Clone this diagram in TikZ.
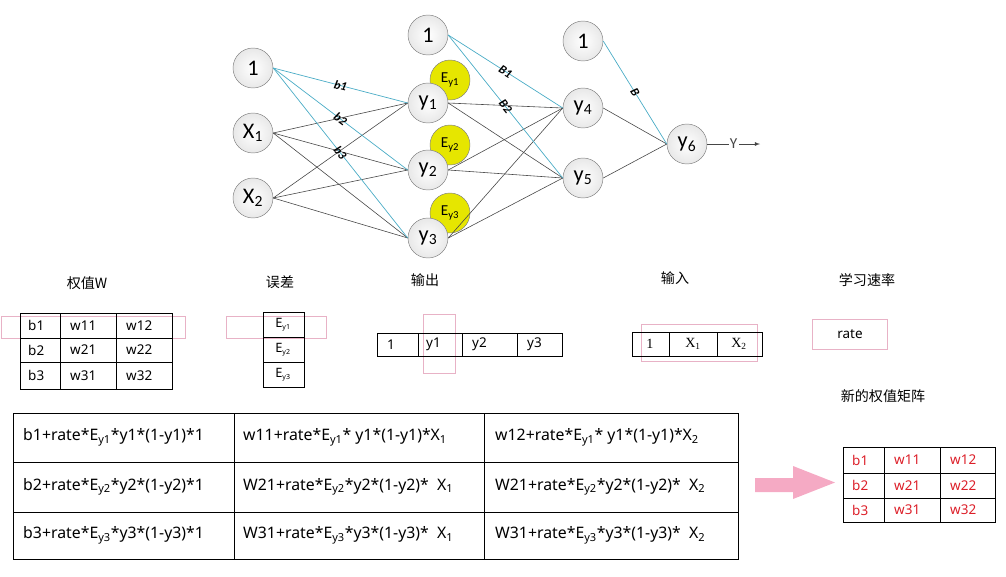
\documentclass[tikz,border=0pt]{standalone}
\usepackage{fontspec}
\setmainfont{Carlito}
\newfontfamily\cjk{Noto Sans CJK SC}
\newfontfamily\tabfont{Noto Sans}
\newfontfamily\tnrfont{Liberation Serif}
\definecolor{linkblue}{RGB}{75,172,198}
\definecolor{edgegray}{RGB}{70,70,70}
\definecolor{pinkline}{RGB}{232,178,198}
\definecolor{pinkarrow}{RGB}{245,170,196}
\definecolor{yellowball}{RGB}{230,230,0}
\definecolor{newred}{RGB}{220,30,40}
\tikzset{
  neuron/.style={circle, draw=gray, inner color=white, outer color=gray!18, minimum size=1.2cm, inner sep=0pt, font=\fontsize{19}{20}\selectfont},
  errball/.style={circle, draw=gray, fill=yellowball, minimum size=1.2cm, inner sep=0pt, font=\fontsize{13}{14}\selectfont},
  wire/.style={edgegray, line width=0.5pt},
  bias/.style={linkblue, line width=0.6pt},
  wlabel/.style={sloped, text=black, font=\fontsize{10.5}{11}\selectfont\bfseries\itshape, inner sep=0.5pt},
  headtext/.style={font=\cjk\fontsize{12}{14}\selectfont},
  cell/.style={anchor=west, inner sep=0pt, font=\tabfont\fontsize{11.5}{13}\selectfont},
  bigcell/.style={anchor=west, inner sep=0pt, font=\tabfont\fontsize{13.5}{15}\selectfont},
  pinkbox/.style={draw=pinkline, line width=0.6pt},
}
\begin{document}
\begin{tikzpicture}[x=0.03cm, y=-0.03cm, >=latex]
\useasboundingbox (0,0) rectangle (1006,576);

% error balls behind the hidden neurons
\node[errball] (e1) at (450,80) {E\textsubscript{y1}};
\node[errball] (e2) at (450,145) {E\textsubscript{y2}};
\node[errball] (e3) at (450,213) {E\textsubscript{y3}};

% network
\node[neuron] (one) at (253,68) {1};
\node[neuron] (x1) at (253,133) {X\textsubscript{1}};
\node[neuron] (x2) at (253,198) {X\textsubscript{2}};
\node[neuron] (hone) at (428,35) {1};
\node[neuron] (y1) at (428,103) {y\textsubscript{1}};
\node[neuron] (y2) at (428,170) {y\textsubscript{2}};
\node[neuron] (y3) at (428,238) {y\textsubscript{3}};
\node[neuron] (oone) at (583,41) {1};
\node[neuron] (y4) at (583,108) {y\textsubscript{4}};
\node[neuron] (y5) at (583,178) {y\textsubscript{5}};
\node[neuron] (y6) at (687,144) {y\textsubscript{6}};
\coordinate (yend) at (760,144);

\foreach \a in {x1,x2}
  \foreach \b in {y1,y2,y3}
    \draw[wire] (\a.east) -- (\b.west);
\foreach \a in {y1,y2,y3}
  \foreach \b in {y4,y5}
    \draw[wire] (\a.east) -- (\b.west);
\draw[wire] (y4.east) -- (y6.west);
\draw[wire] (y5.east) -- (y6.west);

\draw[bias] (one.east) -- node[wlabel]{b1} (y1.west);
\draw[bias] (one.east) -- node[wlabel]{b2} (y2.west);
\draw[bias] (one.east) -- node[wlabel]{b3} (y3.west);
\draw[bias] (hone.east) -- node[wlabel]{B1} (y4.west);
\draw[bias] (hone.east) -- node[wlabel]{B2} (y5.west);
\draw[bias] (oone.east) -- node[wlabel]{B} (y6.west);

\draw[wire, ->] (y6.east) -- node[fill=white, inner sep=1pt, font=\fontsize{13}{14}\selectfont]{Y} (yend);

% headings
\node[headtext] (hw) at (87,283) {权值W};
\node[headtext] (he) at (280,282) {误差};
\node[headtext] (ho) at (425,280) {输出};
\node[headtext] (hi) at (675,278) {输入};
\node[headtext] (hr) at (867,280) {学习速率};
\node[headtext] (hn) at (883,396) {新的权值矩阵};

% weight table
\draw[pinkbox] (1,316) rectangle (185,338);
\draw (20,313) rectangle (172,389);
\draw[thick] (20,338) -- (172,338);
\draw (20,362) -- (172,362);
\draw (60,313) -- (60,389);
\draw (116,313) -- (116,389);
\foreach \r/\y in {1/325.5,2/350,3/375.5}{
  \node[cell] (wb\r) at (28,\y) {b\r};
  \node[cell] (wa\r) at (70,\y) {w\r1};
  \node[cell] (wc\r) at (126,\y) {w\r2};
}

% error column
\draw[pinkbox] (226,316) rectangle (326,338);
\draw (263,312) rectangle (304,387);
\draw (263,337) -- (304,337);
\draw[thick] (263,362) -- (304,362);
\foreach \r/\y in {1/324.5,2/349.5,3/374.5}
  \node[font=\tabfont\fontsize{11}{12}\selectfont, inner sep=0pt] (ec\r) at (283,\y) {E\textsubscript{\fontsize{6}{7}\selectfont y\r}};

% output row
\draw[pinkbox] (423,314) rectangle (455,373);
\draw (377,333) rectangle (562,356);
\draw (418,333) -- (418,356);
\draw (462,333) -- (462,356);
\draw (517,333) -- (517,356);
\node[cell] (oc0) at (387,344.5) {1};
\node[cell] (oc1) at (426,344.5) {y1};
\node[cell] (oc2) at (472,344.5) {y2};
\node[cell] (oc3) at (527,344.5) {y3};

% input row
\draw[pinkbox] (641,324) rectangle (757,361);
\draw (632,332) rectangle (762,356);
\draw[thick] (669,332) -- (669,356);
\draw (717,332) -- (717,356);
\node[font=\tnrfont\fontsize{12}{13}\selectfont] (ic0) at (650,344) {1};
\node[font=\tnrfont\fontsize{12}{13}\selectfont] (ic1) at (693,344) {X\textsubscript{1}};
\node[font=\tnrfont\fontsize{12}{13}\selectfont] (ic2) at (739,344) {X\textsubscript{2}};

% learning rate
\draw[pinkbox] (812,319) rectangle (887,349);
\node[font=\tabfont\fontsize{11.5}{13}\selectfont] (rate) at (850,334) {rate};

% update table
\draw (13,413) rectangle (738,559);
\draw (13,462) -- (738,462);
\draw (13,512) -- (738,512);
\draw (234,413) -- (234,559);
\draw[thick] (484,413) -- (484,559);
\node[bigcell] (u11) at (23,437.5) {b1+rate*E\textsubscript{y1}*y1*(1-y1)*1};
\node[bigcell] (u12) at (243,437.5) {w11+rate*E\textsubscript{y1}* y1*(1-y1)*X\textsubscript{1}};
\node[bigcell] (u13) at (495,437.5) {w12+rate*E\textsubscript{y1}* y1*(1-y1)*X\textsubscript{2}};
\node[bigcell] (u21) at (23,487) {b2+rate*E\textsubscript{y2}*y2*(1-y2)*1};
\node[bigcell] (u22) at (243,487) {W21+rate*E\textsubscript{y2}*y2*(1-y2)*\ \ X\textsubscript{1}};
\node[bigcell] (u23) at (495,487) {W21+rate*E\textsubscript{y2}*y2*(1-y2)*\ \ X\textsubscript{2}};
\node[bigcell] (u31) at (23,535.5) {b3+rate*E\textsubscript{y3}*y3*(1-y3)*1};
\node[bigcell] (u32) at (243,535.5) {W31+rate*E\textsubscript{y3}*y3*(1-y3)*\ \ X\textsubscript{1}};
\node[bigcell] (u33) at (495,535.5) {W31+rate*E\textsubscript{y3}*y3*(1-y3)*\ \ X\textsubscript{2}};

% big arrow
\fill[pinkarrow] (755,478) -- (793,478) -- (793,466) -- (835,482.5) -- (793,499) -- (793,492) -- (755,492) -- cycle;

% new weight table
\draw (843,447) rectangle (995,522);
\draw[thick] (843,473) -- (995,473);
\draw (843,498) -- (995,498);
\draw (884,447) -- (884,522);
\draw (940,447) -- (940,522);
\foreach \r/\y in {1/460,2/485.5,3/510}{
  \node[cell, text=newred] (nb\r) at (852,\y) {b\r};
  \node[cell, text=newred] (na\r) at (894,\y) {w\r1};
  \node[cell, text=newred] (nc\r) at (950,\y) {w\r2};
}
\end{tikzpicture}
\end{document}
